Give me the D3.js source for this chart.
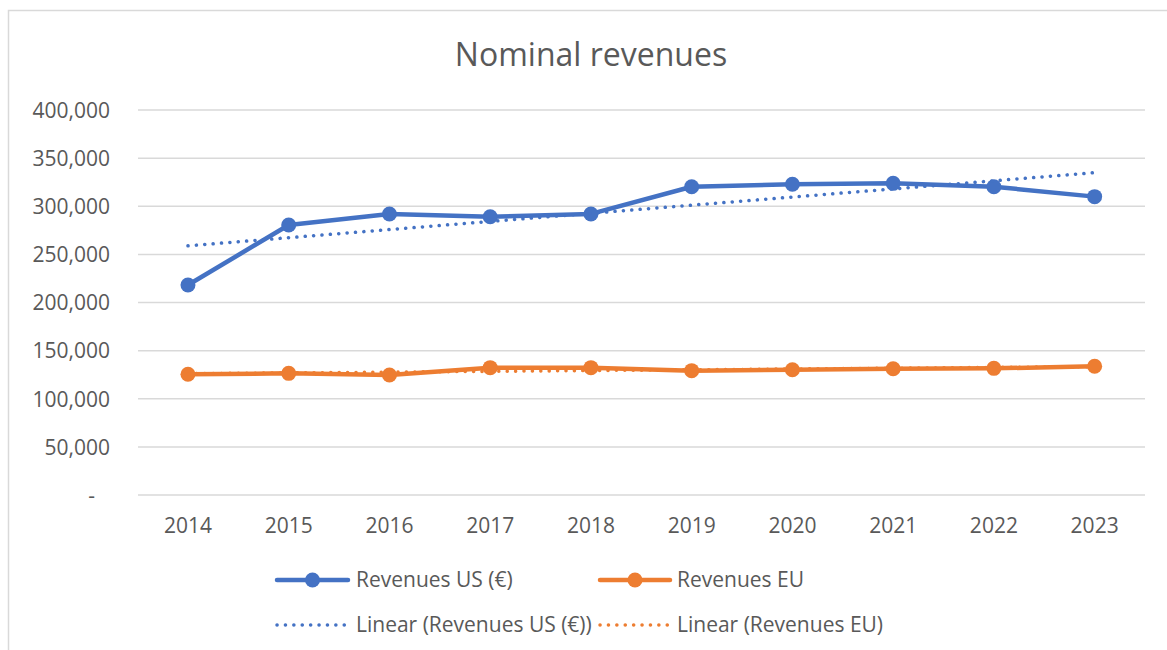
<!DOCTYPE html>
<html><head><meta charset="utf-8">
<script src="https://cdn.jsdelivr.net/npm/d3@7"></script>
<style>body{margin:0;background:#fff}svg{display:block}text{font-family:"Open Sans",sans-serif;fill:#595959}</style>
</head><body>
<svg id="c" width="1167" height="650"></svg>
<script>
const years = ["2014","2015","2016","2017","2018","2019","2020","2021","2022","2023"];
const revenuesUS = [218200, 280500, 292000, 289100, 292000, 320300, 322800, 323800, 320300, 310000];
const revenuesEU = [125400, 126400, 124700, 132300, 132300, 129200, 130200, 131200, 131600, 133700];
const yTicks = [0, 50000, 100000, 150000, 200000, 250000, 300000, 350000, 400000];
const seriesNames = ["Revenues US (€)", "Revenues EU"];
const trendNames = ["Linear (Revenues US (€))", "Linear (Revenues EU)"];
const colors = ["#4472C4", "#ED7D31"];

const svg = d3.select("#c");
svg.append("rect").attr("x",8.5).attr("y",10.5).attr("width",1200).attr("height",700)
  .attr("fill","#fff").attr("stroke","#D9D9D9").attr("stroke-width",1.5);

const x = d3.scaleBand().domain(years).range([137.6,1145]);
const y = d3.scaleLinear().domain([0,400000]).range([495,110]);
const cx = d => x(d) + x.bandwidth()/2;

// gridlines
svg.append("g").selectAll("line").data(yTicks).join("line")
  .attr("x1",138).attr("x2",1145).attr("y1",d=>y(d)).attr("y2",d=>y(d))
  .attr("stroke","#D9D9D9").attr("stroke-width",1.5);

// y axis labels
const fmt = d3.format(",");
const yAxis = d3.axisLeft(y).tickValues(yTicks).tickSize(0).tickPadding(0)
  .tickFormat(d => d===0 ? "-" : fmt(d));
const gy = svg.append("g").attr("transform","translate(110,0)").call(yAxis);
gy.select(".domain").remove();
gy.selectAll("text").style("font-size","21px").attr("fill","#595959").attr("dy","0.35em")
  .style("font-family","'Open Sans',sans-serif");
gy.selectAll(".tick").filter(d=>d===0).select("text").attr("dx","-15");

// x axis labels
const xAxis = d3.axisBottom(x).tickSize(0).tickPadding(0);
const gx = svg.append("g").attr("transform","translate(0,518)").call(xAxis);
gx.select(".domain").remove();
gx.selectAll("text").style("font-size","21px").attr("fill","#595959").attr("dy","0.7em")
  .style("font-family","'Open Sans',sans-serif");

// title
svg.append("text").attr("x",591).attr("y",66).attr("text-anchor","middle")
  .style("font-size","32px").text("Nominal revenues");

function trend(vals){
  const n = vals.length, xs = d3.range(n);
  const mx = d3.mean(xs), my = d3.mean(vals);
  const b = d3.sum(xs,(xi,i)=>(xi-mx)*(vals[i]-my)) / d3.sum(xs,xi=>(xi-mx)**2);
  const a = my - b*mx;
  return [[years[0], a],[years[n-1], a + b*(n-1)]];
}

const data = [revenuesUS, revenuesEU];
const line = d3.line().x(d=>cx(d[0])).y(d=>y(d[1]));

data.forEach((vals,k)=>{
  const pts = years.map((yr,i)=>[yr, vals[i]]);
  svg.append("path").attr("d",line(pts)).attr("fill","none")
    .attr("stroke",colors[k]).attr("stroke-width",4.5).attr("stroke-linejoin","round");
  svg.append("g").selectAll("circle").data(pts).join("circle")
    .attr("cx",d=>cx(d[0])).attr("cy",d=>y(d[1])).attr("r",7.5).attr("fill",colors[k]);
});
data.forEach((vals,k)=>{
  svg.append("path").attr("d",line(trend(vals))).attr("fill","none")
    .attr("stroke",colors[k]).attr("stroke-width",3.5).attr("stroke-linecap","round")
    .attr("stroke-dasharray","0.1 8.3");
});

// legend
const legX = [[277,348,356],[600,670,677]];
const legY = [580, 625];
seriesNames.forEach((nm,k)=>{
  const [x1,x2,tx] = legX[k];
  svg.append("line").attr("x1",x1).attr("x2",x2).attr("y1",legY[0]).attr("y2",legY[0])
    .attr("stroke",colors[k]).attr("stroke-width",4.5).attr("stroke-linecap","round");
  svg.append("circle").attr("cx",(x1+x2)/2).attr("cy",legY[0]).attr("r",7.5).attr("fill",colors[k]);
  svg.append("text").attr("x",tx).attr("y",legY[0]).attr("dy","0.35em").style("font-size","21px").text(nm);
});
trendNames.forEach((nm,k)=>{
  const [x1,x2,tx] = legX[k];
  svg.append("line").attr("x1",x1).attr("x2",x2).attr("y1",legY[1]).attr("y2",legY[1])
    .attr("stroke",colors[k]).attr("stroke-width",3.5).attr("stroke-linecap","round")
    .attr("stroke-dasharray","0.1 8.3");
  svg.append("text").attr("x",tx).attr("y",legY[1]).attr("dy","0.35em").style("font-size","21px").text(nm);
});
</script>
</body></html>
